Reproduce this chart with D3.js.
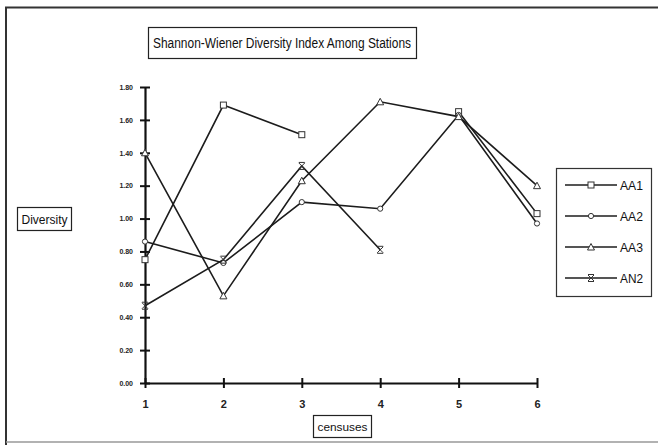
<!DOCTYPE html>
<html><head><meta charset="utf-8">
<script src="https://cdn.jsdelivr.net/npm/d3@7"></script>
<style>html,body{margin:0;padding:0;background:#fff}svg{display:block}</style>
</head><body>
<script>
const censuses = [1, 2, 3, 4, 5, 6];
const seriesNames = ["AA1", "AA2", "AA3", "AN2"];
const AA1 = [0.75, 1.69, 1.51, null, 1.65, 1.03];
const AA2 = [0.86, 0.73, 1.10, 1.06, 1.63, 0.97];
const AA3 = [1.40, 0.53, 1.23, 1.71, 1.62, 1.20];
const AN2 = [0.47, 0.75, 1.32, 0.81, null, null];
const yTicks = [0, 0.2, 0.4, 0.6, 0.8, 1.0, 1.2, 1.4, 1.6, 1.8];
const titleText = "Shannon-Wiener Diversity Index Among Stations";
const yLabel = "Diversity";
const xLabel = "censuses";

const W = 658, H = 445;
const svg = d3.select("body").append("svg").attr("width", W).attr("height", H);
svg.append("rect").attr("width", W).attr("height", H).attr("fill", "#fff");
// outer frame
svg.append("path").attr("d", `M6,${H} V7.5 H${W}`).attr("fill", "none").attr("stroke", "#333").attr("stroke-width", 2);
svg.append("line").attr("x1", 6).attr("x2", W).attr("y1", 442).attr("y2", 442).attr("stroke", "#999").attr("stroke-width", 1.5);

const x = d3.scaleLinear().domain([1, 6]).range([145, 537]);
const y = d3.scaleLinear().domain([0, 1.8]).range([383, 87]);

const font = "'Liberation Sans', Arial, sans-serif";

// Y axis
const yAxis = d3.axisLeft(y).tickValues(yTicks).tickFormat(d3.format(".2f")).tickSizeInner(5).tickSizeOuter(0);
const gy = svg.append("g").attr("transform", `translate(${x(1)},0)`).call(yAxis);
gy.select(".domain").attr("stroke", "#111").attr("stroke-width", 2.2);
gy.selectAll(".tick line").attr("stroke", "#111").attr("stroke-width", 2).attr("x2", 5).attr("x1", -5);
gy.selectAll(".tick text").attr("x", -12).attr("font-family", font).attr("font-size", 7).attr("font-weight", "bold").attr("fill", "#222");

// X axis
const xAxis = d3.axisBottom(x).tickValues(censuses).tickFormat(d3.format("d")).tickSizeInner(5).tickSizeOuter(0);
const gx = svg.append("g").attr("transform", `translate(0,${y(0)})`).call(xAxis);
gx.select(".domain").attr("stroke", "#111").attr("stroke-width", 2.2);
gx.selectAll(".tick line").attr("stroke", "#111").attr("stroke-width", 2).attr("y1", -5).attr("y2", 5);
gx.selectAll(".tick text").attr("y", 17).attr("font-family", font).attr("font-size", 11).attr("font-weight", "bold").attr("fill", "#222");

const data = [AA1, AA2, AA3, AN2];
const markers = ["square", "diamond", "triangle", "x"];
const line = d3.line().defined(d => d != null).x((d, i) => x(censuses[i])).y(d => y(d));

function drawMarker(g, type, cx, cy) {
  const s = 3;
  if (type === "square") {
    g.append("rect").attr("x", cx - s).attr("y", cy - s).attr("width", 2 * s).attr("height", 2 * s)
      .attr("fill", "#fff").attr("stroke", "#333").attr("stroke-width", 1);
  } else if (type === "diamond") {
    g.append("circle").attr("cx", cx).attr("cy", cy).attr("r", 2.6)
      .attr("fill", "#fff").attr("stroke", "#333").attr("stroke-width", 1);
  } else if (type === "triangle") {
    g.append("path").attr("d", `M${cx},${cy - 3.5} L${cx + 3.5},${cy + 3} L${cx - 3.5},${cy + 3} Z`)
      .attr("fill", "#fff").attr("stroke", "#333").attr("stroke-width", 1);
  } else {
    g.append("path").attr("d", `M${cx - 3},${cy - 3} L${cx + 3},${cy + 3} M${cx + 3},${cy - 3} L${cx - 3},${cy + 3} M${cx - 3},${cy - 3.5} H${cx + 3} M${cx - 3},${cy + 3.5} H${cx + 3}`)
      .attr("fill", "none").attr("stroke", "#333").attr("stroke-width", 1);
  }
}

data.forEach((arr, k) => {
  const g = svg.append("g");
  g.append("path").attr("d", line(arr)).attr("fill", "none").attr("stroke", "#1c1c1c").attr("stroke-width", 1.6);
  arr.forEach((v, i) => { if (v != null) drawMarker(g, markers[k], x(censuses[i]), y(v)); });
});

// Title box
svg.append("rect").attr("x", 148.5).attr("y", 27.5).attr("width", 268).attr("height", 31)
  .attr("fill", "#fff").attr("stroke", "#222").attr("stroke-width", 1.2);
svg.append("text").attr("x", 282).attr("y", 48).attr("text-anchor", "middle")
  .attr("font-family", font).attr("font-size", 14).attr("fill", "#111")
  .attr("textLength", 258).attr("lengthAdjust", "spacingAndGlyphs").text(titleText);

// Y label box
svg.append("rect").attr("x", 17.5).attr("y", 207.5).attr("width", 54).attr("height", 23)
  .attr("fill", "#fff").attr("stroke", "#222").attr("stroke-width", 1.2);
svg.append("text").attr("x", 44.5).attr("y", 223.5).attr("text-anchor", "middle")
  .attr("font-family", font).attr("font-size", 12).attr("fill", "#111")
  .attr("textLength", 46).attr("lengthAdjust", "spacingAndGlyphs").text(yLabel);

// X label box
svg.append("rect").attr("x", 313.5).attr("y", 415.5).attr("width", 58).attr("height", 22)
  .attr("fill", "#fff").attr("stroke", "#222").attr("stroke-width", 1.2);
svg.append("text").attr("x", 342.5).attr("y", 430.5).attr("text-anchor", "middle")
  .attr("font-family", font).attr("font-size", 11).attr("fill", "#111")
  .attr("textLength", 50).attr("lengthAdjust", "spacingAndGlyphs").text(xLabel);

// Legend
svg.append("rect").attr("x", 556.5).attr("y", 168.5).attr("width", 95).attr("height", 128)
  .attr("fill", "#fff").attr("stroke", "#333").attr("stroke-width", 1.2);
const legY = d3.scalePoint().domain(seriesNames).range([185, 278]);
seriesNames.forEach((n, k) => {
  const g = svg.append("g");
  const ly = legY(n);
  g.append("line").attr("x1", 565).attr("x2", 617).attr("y1", ly).attr("y2", ly).attr("stroke", "#1c1c1c").attr("stroke-width", 1.6);
  drawMarker(g, markers[k], 591, ly);
  g.append("text").attr("x", 620).attr("y", ly + 4.5).attr("font-family", font).attr("font-size", 12).attr("fill", "#111")
    .attr("textLength", 23).attr("lengthAdjust", "spacingAndGlyphs").text(n);
});
</script>
</body></html>
